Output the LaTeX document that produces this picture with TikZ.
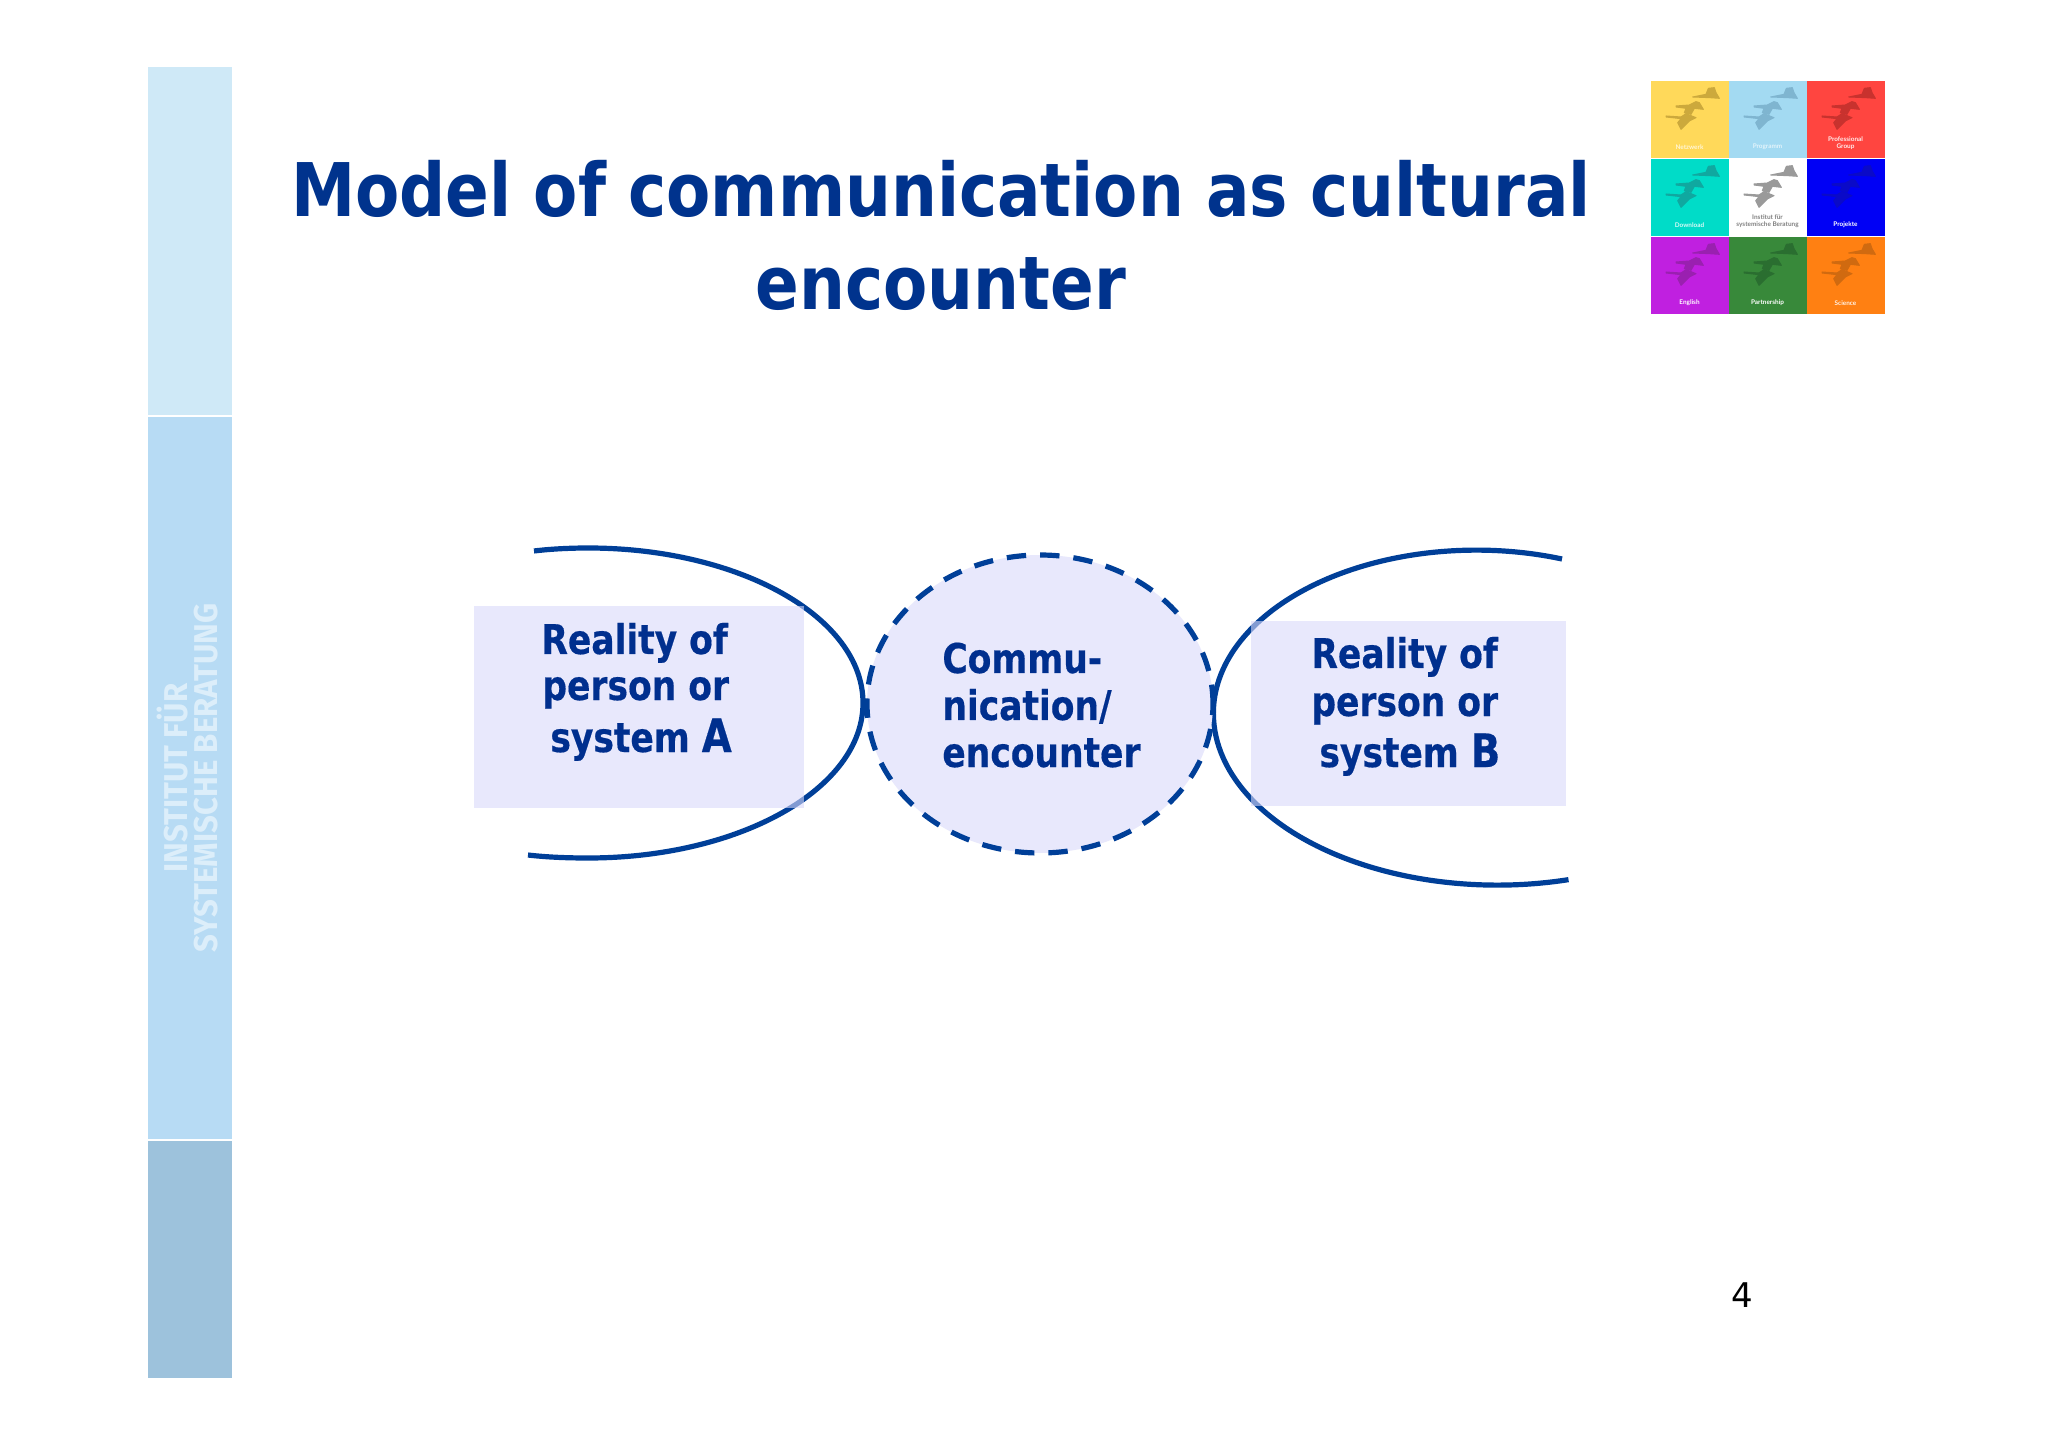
\documentclass[tikz,border=0pt]{standalone}
\usepackage{fontspec}
\usetikzlibrary{shapes.geometric}
\setmainfont{DejaVu Sans Condensed}
\newfontfamily\titlefont[FakeStretch=0.968]{DejaVu Sans Condensed}
\newfontfamily\lblfont[FakeStretch=0.935,FakeBold=0.4]{DejaVu Sans Condensed}
\newfontfamily\sidefont[FakeStretch=0.945]{Fira Sans}
\newfontfamily\numfont{DejaVu Sans}
\newfontfamily\logofont{Lato}
\definecolor{linecol}{HTML}{003F98}
\definecolor{txtcol}{HTML}{002F8E}
\definecolor{titlecol}{HTML}{00338D}
\definecolor{boxveil}{HTML}{D9D9FA}
\definecolor{circfill}{HTML}{E8E8FC}
\definecolor{sidea}{HTML}{CFE9F7}
\definecolor{sideb}{HTML}{B7DBF4}
\definecolor{sidec}{HTML}{9DC2DC}
\definecolor{sidetext}{HTML}{DCEEFA}
\definecolor{ca}{HTML}{FFD95A}\definecolor{sa}{HTML}{CCA93C}
\definecolor{cb}{HTML}{A3DAF2}\definecolor{sb}{HTML}{7FB5D0}
\definecolor{cc}{HTML}{FF4540}\definecolor{sc}{HTML}{C8322E}
\definecolor{cd}{HTML}{00DCC8}\definecolor{sd}{HTML}{10A8A0}
\definecolor{ce}{HTML}{FFFFFF}\definecolor{se}{HTML}{9A9A9A}
\definecolor{cf}{HTML}{0000F5}\definecolor{sf}{HTML}{0A0AC8}
\definecolor{cg}{HTML}{C020E0}\definecolor{sg}{HTML}{9A20B0}
\definecolor{ch}{HTML}{38893A}\definecolor{sh}{HTML}{2A6E30}
\definecolor{ci}{HTML}{FF8012}\definecolor{si}{HTML}{D06A10}
\tikzset{
  x=0.5pt,y=0.5pt,
  curve/.style={draw=linecol,line width=2.6pt},
  veil/.style={fill=boxveil,fill opacity=.6,draw=none,inner sep=0pt},
  labeltext/.style={font=\lblfont\bfseries\fontsize{20.5}{20.5}\selectfont,text=txtcol,anchor=base west,inner sep=0pt},
  titletext/.style={font=\titlefont\bfseries\fontsize{37}{37}\selectfont,text=titlecol,anchor=base,inner sep=0pt},
  sidelabel/.style={font=\sidefont\bfseries\fontsize{16.5}{16.5}\selectfont,text=sidetext,rotate=90,anchor=base,inner sep=0pt},
  celltext/.style={font=\logofont\bfseries\fontsize{3.2}{3.6}\selectfont,align=center,inner sep=0pt},
  swan/.style={line width=0.5pt,line join=round},
}
\newcommand{\logocell}[6]{%
  \fill[c#3] (#1,#2) rectangle ++(77.5,-77.5);
  \begin{scope}[shift={(#1,#2)},xscale=0.3333,yscale=-0.3333,s#3]
    \filldraw[swan] (125,48) -- (165,40) -- (172,22) -- (190,20) -- (195,35) -- (205,52) -- (175,50) -- cycle;
    \filldraw[swan] (75,75) -- (115,72) -- (135,62) -- (145,65) -- (157,85) -- (130,82) -- (120,100) -- (100,95) -- (105,82) -- (75,78) -- cycle;
    \filldraw[swan] (45,105) -- (90,108) -- (105,98) -- (135,110) -- (115,120) -- (90,145) -- (80,125) -- (90,113) -- (45,108) -- cycle;
  \end{scope}
  \node[celltext,text=#4] (cell#3) at (#1+38.5,#2-#6) {#5};
}
\begin{document}
\begin{tikzpicture}
\useasboundingbox (0,0) rectangle (2048,1447);
\fill[white] (0,0) rectangle (2048,1447);
% sidebar
\fill[sidea] (148,1380) rectangle (232,1032);
\fill[sideb] (148,1029.5) rectangle (232,308.5);
\fill[sidec] (148,306) rectangle (232,69);
\node[sidelabel] (sidelinea) at (187.5,669) {INSTITUT FÜR};
\node[sidelabel] (sidelineb) at (217.5,669) {SYSTEMISCHE BERATUNG};
% title
\node[titletext] (titlea) at (941,1230) {Model of communication as cultural};
\node[titletext] (titleb) at (941,1137) {encounter};
% logo
\logocell{1651}{1366}{a}{white!75!ca}{Netzwerk}{66}
\logocell{1729}{1366}{b}{white!70!cb}{Programm}{66}
\logocell{1807}{1366}{c}{white!90!cc}{Professional\\Group}{62}
\logocell{1651}{1288}{d}{white!85!cd}{Download}{66}
\logocell{1729}{1288}{e}{gray}{Institut für\\systemische Beratung}{62}
\logocell{1807}{1288}{f}{white}{Projekte}{66}
\logocell{1651}{1210}{g}{white}{English}{66}
\logocell{1729}{1210}{h}{white}{Partnership}{66}
\logocell{1807}{1210}{i}{white!90!ci}{Science}{66}
% curves
\draw[curve] (534,896) .. controls (550,898) and (570,899) .. (588,899) arc[start angle=90,end angle=-90,x radius=275,y radius=155] .. controls (565,589) and (545,590) .. (528,592);
\draw[curve] (1562,888) arc[start angle=71,end angle=180,x radius=263,y radius=163] arc[start angle=180,end angle=284.5,x radius=284,y radius=172];
% boxes
\node[veil,minimum width=165pt,minimum height=101pt] (boxa) at (639,740) {};
\node[veil,minimum width=157.5pt,minimum height=92.5pt] (boxb) at (1408.5,733.5) {};
% circle
\node[ellipse,draw=linecol,fill=circfill,line width=2.6pt,dash pattern=on 9.7pt off 7pt,minimum width=173pt,minimum height=149pt,inner sep=0pt] (circ) at (1040,743) {};
% labels
\node[labeltext] (aone) at (541,793) {Reality of};
\node[labeltext] (atwo) at (542,747) {person or};
\node[labeltext] (athree) at (550,695) {system {\fontsize{23}{23}\selectfont A}};
\node[labeltext] (cone) at (942,774) {Commu-};
\node[labeltext] (ctwo) at (942,727) {nication/};
\node[labeltext] (cthree) at (942,680) {encounter};
\node[labeltext] (bone) at (1311,779) {Reality of};
\node[labeltext] (btwo) at (1311,731) {person or};
\node[labeltext] (bthree) at (1319,680) {system {\fontsize{23}{23}\selectfont B}};
\node[font=\numfont\fontsize{17}{17}\selectfont,anchor=base,inner sep=0pt] (pagenum) at (1742,140) {4};
\end{tikzpicture}
\end{document}
